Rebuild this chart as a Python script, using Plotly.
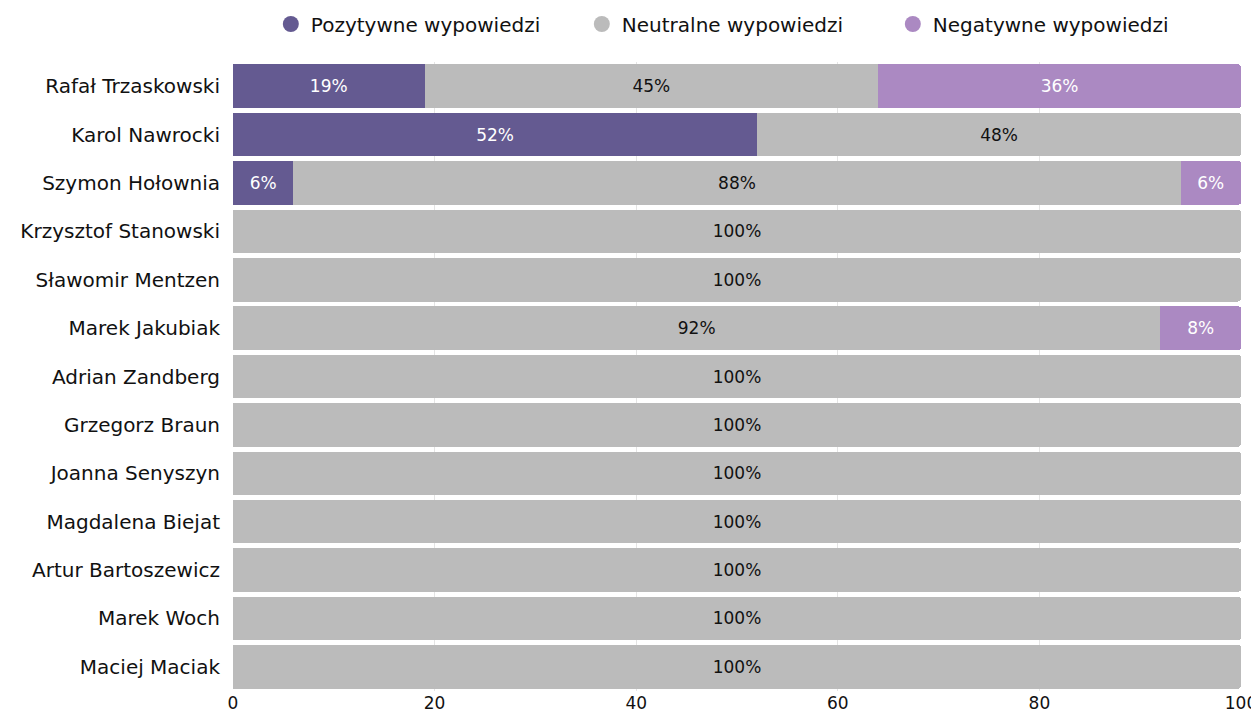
import plotly.graph_objects as go

categories = ["Rafał Trzaskowski", "Karol Nawrocki", "Szymon Hołownia", "Krzysztof Stanowski",
              "Sławomir Mentzen", "Marek Jakubiak", "Adrian Zandberg", "Grzegorz Braun",
              "Joanna Senyszyn", "Magdalena Biejat", "Artur Bartoszewicz", "Marek Woch", "Maciej Maciak"]
positive = [19, 52, 6, 0, 0, 0, 0, 0, 0, 0, 0, 0, 0]
neutral = [45, 48, 88, 100, 100, 92, 100, 100, 100, 100, 100, 100, 100]
negative = [36, 0, 6, 0, 0, 8, 0, 0, 0, 0, 0, 0, 0]
x_ticks = [0, 20, 40, 60, 80, 100]

FONT = "DejaVu Sans"

def labels(vals):
    return [f"{v}%" if v > 0 else "" for v in vals]

series = [
    ("Pozytywne wypowiedzi", positive, "#645a91", "white"),
    ("Neutralne wypowiedzi", neutral, "#bbbbbb", "#111111"),
    ("Negatywne wypowiedzi", negative, "#ab89c2", "white"),
]

fig = go.Figure()
for name, vals, color, tcolor in series:
    fig.add_trace(go.Bar(
        y=categories, x=vals, name=name, orientation="h", showlegend=False,
        marker=dict(color=color, line=dict(width=0)),
        text=labels(vals), textposition="inside", insidetextanchor="middle",
        textfont=dict(color=tcolor, size=17, family=FONT),
        constraintext="none", hoverinfo="x+y+name",
    ))
# legend entries with circular markers
for name, vals, color, tcolor in series:
    fig.add_trace(go.Scatter(
        x=[None], y=[None], mode="markers", name=name,
        marker=dict(symbol="circle", size=16, color=color),
        showlegend=True,
    ))

# The page body has an 8px margin, so the figure is offset by 8px.
fig.update_layout(
    barmode="stack",
    bargap=0.1,
    barcornerradius=3,
    width=1251, height=707,
    margin=dict(l=225, r=18, t=54, b=24),
    paper_bgcolor="white", plot_bgcolor="rgba(0,0,0,0)",
    font=dict(family=FONT, size=19, color="#111111"),
    legend=dict(orientation="h", x=0.583, xanchor="center", xref="container",
                y=1 - 16 / 707, yanchor="middle", yref="container",
                font=dict(size=20, family=FONT), itemsizing="trace",
                traceorder="normal", itemwidth=30, entrywidth=266),
    showlegend=True,
)
fig.update_xaxes(range=[0, 100], tickvals=x_ticks, showgrid=True, gridcolor="#e4e4e4",
                 zeroline=False, tickfont=dict(size=17, family=FONT), ticks="", showline=False,
                 automargin=False, fixedrange=True)
fig.update_yaxes(autorange="reversed", tickfont=dict(size=20, family=FONT), ticks="",
                 ticklabelstandoff=12, showgrid=False, automargin=False, fixedrange=True)

fig.write_html("out.html")
